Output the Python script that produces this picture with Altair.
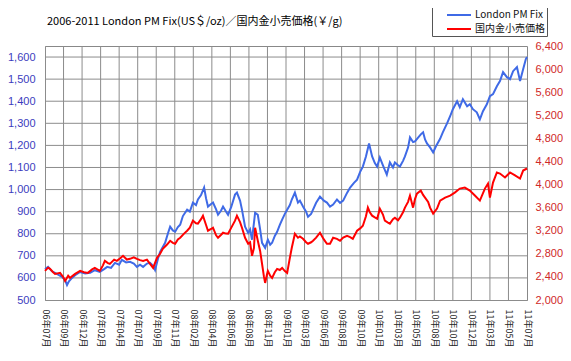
import altair as alt
import pandas as pd

labels = ["06年07月", "06年09月", "06年12月", "07年02月", "07年04月", "07年07月", "07年09月",
          "07年11月", "08年02月", "08年04月", "08年06月", "08年08月", "08年11月", "09年01月",
          "09年03月", "09年06月", "09年08月", "09年10月", "10年01月", "10年03月", "10年05月",
          "10年08月", "10年10月", "10年12月", "11年03月", "11年05月", "11年07月"]
label_step = 48  # trading days between labels

series_names = ["London PM Fix", "国内金小売価格"]
colors = ["#3f6ae6", "#ff0000"]

blue_day = [0, 8, 18, 26, 34, 44, 52, 57, 62, 70, 80, 91, 104, 117, 129, 142, 153, 161, 171, 181,
            192, 199, 210, 220, 230, 238, 246, 254, 264, 272, 280, 285, 293, 298, 305, 311, 318, 324,
            331, 337, 344, 350, 357, 368, 375, 383, 391, 396, 404, 412, 417, 422, 430, 435, 443, 448,
            456, 461, 469, 474, 482, 492, 497, 505, 510, 518, 526, 531, 536, 544, 551, 557, 562, 570,
            577, 583, 588, 595, 601, 608, 614, 621, 627, 634, 639, 647, 655, 660, 668, 676, 681, 689,
            694, 702, 712, 722, 730, 738, 746, 756, 764, 772, 782, 790, 800, 808, 816, 823, 831, 839,
            847, 854, 860, 867, 875, 885, 893, 901, 906, 914, 919, 927, 932, 940, 945, 953, 958, 966,
            973, 979, 984, 989, 997, 1005, 1012, 1023, 1030, 1041, 1049, 1056, 1067, 1074, 1082, 1093,
            1100, 1108, 1118, 1126, 1134, 1144, 1152, 1160, 1170, 1178, 1186, 1196, 1204, 1212, 1222,
            1230, 1238, 1245, 1248]
blue_val = [640, 650, 630, 623, 615, 605, 590, 568, 585, 600, 615, 627, 620, 623, 635, 627, 640, 650,
            645, 668, 660, 682, 670, 673, 665, 650, 660, 650, 665, 668, 655, 636, 690, 718, 740, 759,
            800, 832, 815, 809, 830, 841, 880, 909, 900, 941, 930, 955, 975, 1009, 960, 923, 935, 941,
            910, 886, 905, 923, 900, 886, 920, 977, 986, 950, 909, 832, 804, 820, 773, 895, 886, 820,
            759, 736, 773, 750, 759, 790, 809, 840, 864, 890, 909, 930, 955, 986, 941, 950, 923, 900,
            877, 890, 909, 940, 968, 950, 941, 923, 932, 955, 940, 950, 985, 1009, 1030, 1045, 1080,
            1104, 1150, 1209, 1150, 1120, 1104, 1145, 1110, 1068, 1123, 1100, 1123, 1110, 1104, 1130,
            1150, 1190, 1236, 1215, 1218, 1235, 1250, 1259, 1227, 1209, 1191, 1168, 1195, 1230, 1259,
            1300, 1332, 1364, 1400, 1373, 1409, 1377, 1386, 1364, 1350, 1318, 1355, 1386, 1423, 1432,
            1468, 1491, 1532, 1509, 1500, 1536, 1555, 1491, 1545, 1591, 1600]

red_day = [0, 8, 13, 21, 26, 39, 47, 52, 60, 65, 78, 91, 101, 111, 122, 129, 142, 150, 155, 163, 168,
           179, 186, 194, 202, 212, 220, 230, 238, 246, 254, 264, 272, 280, 290, 298, 305, 316, 324,
           331, 337, 344, 350, 360, 368, 375, 383, 391, 396, 404, 409, 417, 422, 430, 435, 443, 448,
           456, 461, 469, 474, 482, 492, 497, 505, 510, 518, 526, 531, 536, 541, 544, 551, 557, 562,
           567, 570, 575, 577, 583, 588, 595, 601, 608, 614, 621, 627, 634, 639, 647, 655, 660, 668,
           676, 681, 689, 694, 702, 712, 722, 730, 738, 746, 756, 764, 772, 782, 790, 797, 808, 816,
           823, 831, 836, 841, 847, 854, 860, 867, 875, 880, 888, 893, 901, 906, 914, 919, 927, 932,
           940, 945, 953, 958, 963, 973, 979, 984, 992, 997, 1005, 1015, 1023, 1036, 1049, 1061, 1074,
           1087, 1100, 1113, 1126, 1139, 1147, 1152, 1160, 1170, 1178, 1191, 1204, 1217, 1230, 1238,
           1248]
red_val = [2504, 2560, 2539, 2480, 2452, 2470, 2400, 2330, 2420, 2383, 2452, 2504, 2480, 2470, 2530,
           2556, 2504, 2600, 2678, 2640, 2626, 2700, 2678, 2720, 2765, 2700, 2713, 2740, 2713, 2690,
           2678, 2700, 2626, 2556, 2730, 2800, 2887, 2960, 3026, 2990, 2974, 3050, 3078, 3150, 3200,
           3252, 3374, 3330, 3322, 3400, 3461, 3300, 3200, 3230, 3252, 3120, 3078, 3130, 3165, 3150,
           3148, 3250, 3374, 3461, 3350, 3252, 3078, 2974, 3000, 2765, 2900, 3252, 3026, 2850, 2626,
           2400, 2296, 2450, 2504, 2420, 2383, 2480, 2539, 2520, 2556, 2500, 2470, 2730, 2904, 3148,
           3078, 3100, 3061, 3000, 2974, 3000, 3026, 3080, 3165, 3050, 2974, 2974, 3078, 3060, 3026,
           3080, 3113, 3090, 3061, 3200, 3240, 3287, 3450, 3600, 3520, 3461, 3430, 3409, 3583, 3480,
           3374, 3340, 3322, 3400, 3426, 3380, 3426, 3520, 3600, 3700, 3809, 3600, 3750, 3843, 3896,
           3820, 3774, 3700, 3600, 3496, 3583, 3722, 3774, 3809, 3861, 3930, 3948, 3896, 3809, 3722,
           3930, 4017, 3774, 4035, 4209, 4191, 4122, 4209, 4157, 4104, 4243, 4278]

left_ticks = list(range(500, 1700, 100))
right_ticks = list(range(2000, 6800, 400))
left_domain = [500, 1650]
right_domain = [2000, 6400]

label_days = [i * label_step for i in range(len(labels))]
x_end = label_days[-1]

df_b = pd.DataFrame({"day": blue_day, "value": blue_val, "series": series_names[0]})
df_r = pd.DataFrame({"day": red_day, "value": red_val, "series": series_names[1]})

# grid lines drawn as two-point line segments from the tick arrays and the scale ends
grid_rows = []
for d in label_days[1:-1]:
    grid_rows.append({"day": d, "gv": left_domain[0], "gid": "v%d" % d})
    grid_rows.append({"day": d, "gv": left_domain[1], "gid": "v%d" % d})
for v in left_ticks[1:]:
    grid_rows.append({"day": 0, "gv": v, "gid": "h%d" % v})
    grid_rows.append({"day": x_end, "gv": v, "gid": "h%d" % v})
df_grid = pd.DataFrame(grid_rows)

label_js = "[" + ",".join("'" + l + "'" for l in labels) + "]"

grid_col = "#8c8c8c"
num_font = "Liberation Sans Narrow, Arial Narrow, Liberation Sans, sans-serif"

x_enc = alt.X(
    "day:Q",
    scale=alt.Scale(domain=[0, x_end], nice=False, zero=False),
    axis=alt.Axis(
        values=label_days,
        labelExpr=label_js + "[round(datum.value/" + str(label_step) + ")]",
        labelAngle=90, labelFontSize=9, labelFont="Noto Sans CJK JP", labelColor="#222222",
        labelPadding=9, ticks=False, grid=False,
        domainColor=grid_col, title=None, labelOverlap=False, labelFlush=False,
    ),
)

color_enc = alt.Color(
    "series:N",
    scale=alt.Scale(domain=series_names, range=colors),
    legend=alt.Legend(
        orient="none", legendX=387, legendY=-42, title=None,
        symbolType="M-1.5,0H1.5", symbolSize=256, symbolStrokeWidth=2, symbolOffset=16,
        labelFont="Noto Sans CJK JP", labelFontSize=10, labelColor="#111111",
        strokeColor="#555555", padding=2, rowPadding=0,
        labelOffset=7,
    ),
)

grid = alt.Chart(df_grid).mark_line(color=grid_col, strokeWidth=1).encode(
    x=x_enc,
    y=alt.Y("gv:Q", scale=alt.Scale(domain=left_domain, nice=False, zero=False), axis=None),
    detail="gid:N",
)

blue = alt.Chart(df_b).mark_line(strokeWidth=2).encode(
    x=x_enc,
    y=alt.Y(
        "value:Q",
        scale=alt.Scale(domain=left_domain, nice=False, zero=False),
        axis=alt.Axis(
            orient="left", values=left_ticks, format=",.0f", title=None,
            labelFont=num_font, labelFontSize=11, labelColor="#3c3cbe",
            labelPadding=10, ticks=False, grid=False, domainColor=grid_col,
        ),
    ),
    color=color_enc,
)

red = alt.Chart(df_r).mark_line(strokeWidth=2).encode(
    x=x_enc,
    y=alt.Y(
        "value:Q",
        scale=alt.Scale(domain=right_domain, nice=False, zero=False),
        axis=alt.Axis(
            orient="right", values=right_ticks, format=",.0f", title=None,
            labelFont=num_font, labelFontSize=11, labelColor="#d02828",
            labelPadding=8, ticks=False, grid=False, domain=False,
        ),
    ),
    color=color_enc,
)

chart = (
    alt.layer(grid, blue, red)
    .resolve_scale(y="independent")
    .properties(
        width=482, height=254,
        autosize=alt.AutoSizeParams(type="none"),
        padding={"left": 37, "top": 38, "right": 36, "bottom": 53},
        title=alt.Title(
            "2006-2011 London PM Fix(US＄/oz)／国内金小売価格(￥/g)",
            anchor="start", frame="group", offset=0, dx=2, dy=23,
            font="Noto Sans CJK JP", fontSize=11, fontWeight="normal", color="#000000",
        ),
    )
    .configure_view(stroke="#888888", strokeWidth=1)
)

chart.save("out.html", embed_options={"renderer": "svg", "actions": False})
